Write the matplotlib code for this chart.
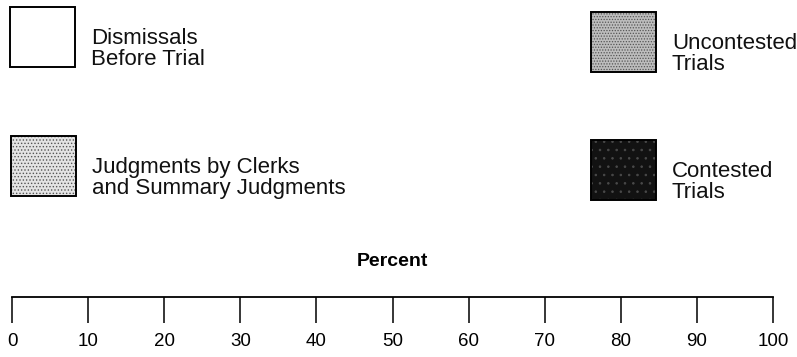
import matplotlib
matplotlib.use("Agg")
import matplotlib.pyplot as plt
from matplotlib.patches import Rectangle

plt.rcParams['font.family'] = ['Liberation Sans', 'DejaVu Sans']
plt.rcParams['hatch.linewidth'] = 0.6

# legend entries (left column first, then right column)
categories = ['Dismissals\nBefore Trial',
              'Judgments by Clerks\nand Summary Judgments',
              'Uncontested\nTrials',
              'Contested\nTrials']
fills = ['white', '#e4e4e4', '#bdbdbd', '#121212']
hatches = [None, '.....', '......', '..']
hatch_colors = ['black', '#555555', '#555555', '#4a4a4a']

# percent scale
ticks = list(range(0, 101, 10))
tick_labels = [str(t) for t in ticks]

W, H = 797, 357


def main():
    fig = plt.figure(figsize=(W / 100, H / 100), dpi=100)

    # box position (left, top) in pixels for each entry
    box_pos = [(10, 7), (11, 136), (591, 12), (591, 140)]
    box_w, box_h = 65, 60

    for i, label in enumerate(categories):
        x0, y0 = box_pos[i]
        fx = x0 / W
        fy = 1 - (y0 + box_h) / H
        fw = box_w / W
        fh = box_h / H
        fig.add_artist(Rectangle((fx, fy), fw, fh, transform=fig.transFigure,
                                 facecolor=fills[i], edgecolor='none'))
        if hatches[i]:
            fig.add_artist(Rectangle((fx, fy), fw, fh, transform=fig.transFigure,
                                     facecolor='none', edgecolor=hatch_colors[i],
                                     hatch=hatches[i], linewidth=0))
        fig.add_artist(Rectangle((fx, fy), fw, fh, transform=fig.transFigure,
                                 facecolor='none', edgecolor='black', linewidth=1.4))
        tx = (x0 + box_w + 16) / W
        ty = 1 - (y0 + box_h / 2 + 28) / H
        fig.text(tx, ty, label, fontsize=16, va='baseline', ha='left',
                 linespacing=0.98, color='#111111')

    # scale axis
    left = 12 / W
    right = 773 / W
    ax = fig.add_axes([left, (H - 297) / H, right - left, 0.001])
    ax.set_xlim(0, 100)
    ax.set_xticks(ticks)
    ax.set_xticklabels(tick_labels)
    ax.set_yticks([])
    for s in ['top', 'left', 'right']:
        ax.spines[s].set_visible(False)
    ax.spines['bottom'].set_linewidth(1.3)
    ax.tick_params(axis='x', direction='out', length=19, width=1.1,
                   pad=7, labelsize=13.5)
    ax.set_title('Percent', fontweight='bold', fontsize=14, pad=22)
    ax.patch.set_visible(False)

    fig.savefig('out.png', dpi=100)


if __name__ == "__main__":
    main()
